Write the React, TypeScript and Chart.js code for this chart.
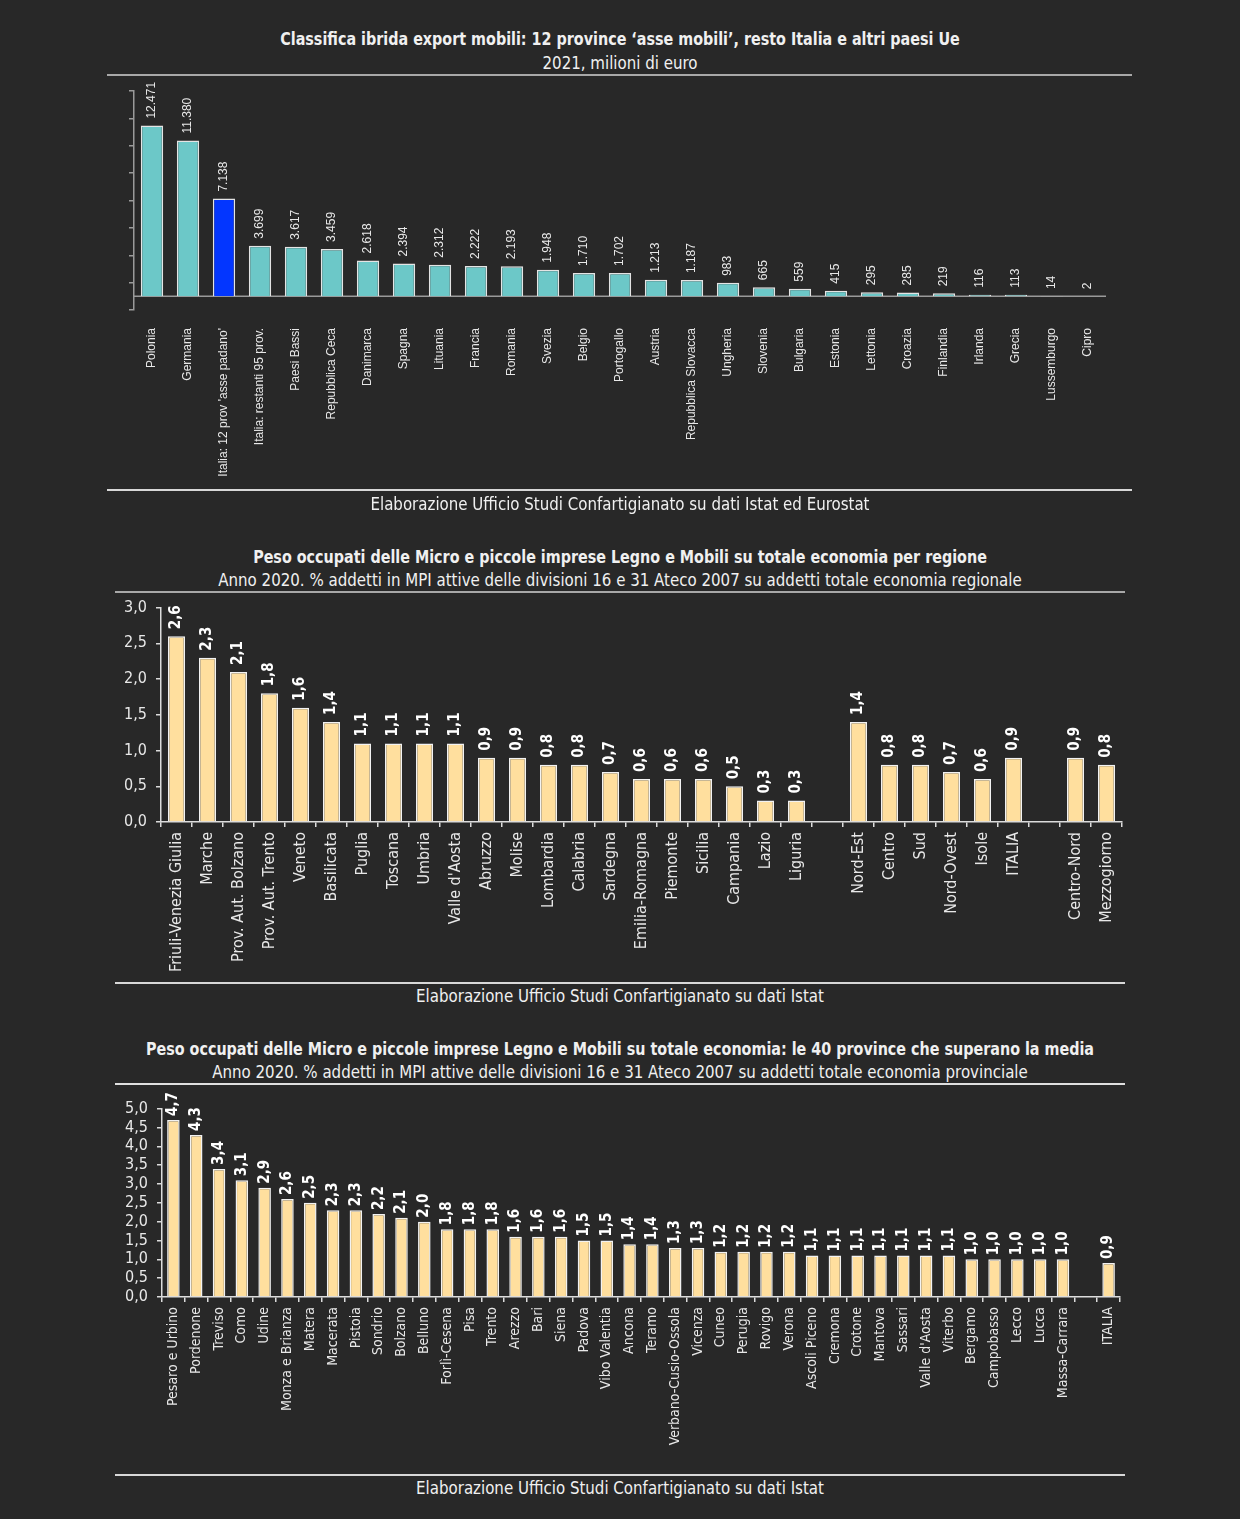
import React, { useEffect, useRef } from "react";
import { Chart, registerables } from "chart.js";
Chart.register(...registerables);

const NARROW = "'Liberation Sans Narrow', 'Arial Narrow', 'DejaVu Sans Condensed', sans-serif";
const WIDE = "'Liberation Sans', Arial, sans-serif";
const BG = "#282828";
const TXT = "#e8e8e8";

// ---- Chart 1 data ----
const exportCountries = [
  "Polonia", "Germania", "Italia: 12 prov 'asse padano'", "Italia: restanti 95 prov.", "Paesi Bassi",
  "Repubblica Ceca", "Danimarca", "Spagna", "Lituania", "Francia", "Romania", "Svezia", "Belgio",
  "Portogallo", "Austria", "Repubblica Slovacca", "Ungheria", "Slovenia", "Bulgaria", "Estonia",
  "Lettonia", "Croazia", "Finlandia", "Irlanda", "Grecia", "Lussemburgo", "Cipro",
];
const exportValues = [
  12471, 11380, 7138, 3699, 3617, 3459, 2618, 2394, 2312, 2222, 2193, 1948, 1710, 1702, 1213,
  1187, 983, 665, 559, 415, 295, 285, 219, 116, 113, 14, 2,
];
const exportHighlightLabel = "Italia: 12 prov 'asse padano'";

// ---- Chart 2 data ----
const regionLabels = [
  "Friuli-Venezia Giulia", "Marche", "Prov. Aut. Bolzano", "Prov. Aut. Trento", "Veneto", "Basilicata",
  "Puglia", "Toscana", "Umbria", "Valle d'Aosta", "Abruzzo", "Molise", "Lombardia", "Calabria",
  "Sardegna", "Emilia-Romagna", "Piemonte", "Sicilia", "Campania", "Lazio", "Liguria", "",
  "Nord-Est", "Centro", "Sud", "Nord-Ovest", "Isole", "ITALIA", "", "Centro-Nord", "Mezzogiorno",
];
const regionValues: (number | null)[] = [
  2.6, 2.3, 2.1, 1.8, 1.6, 1.4, 1.1, 1.1, 1.1, 1.1, 0.9, 0.9, 0.8, 0.8, 0.7, 0.6, 0.6, 0.6, 0.5, 0.3, 0.3, null,
  1.4, 0.8, 0.8, 0.7, 0.6, 0.9, null, 0.9, 0.8,
];

// ---- Chart 3 data ----
const provinceLabels = [
  "Pesaro e Urbino", "Pordenone", "Treviso", "Como", "Udine", "Monza e Brianza", "Matera", "Macerata",
  "Pistoia", "Sondrio", "Bolzano", "Belluno", "Forlì-Cesena", "Pisa", "Trento", "Arezzo", "Bari", "Siena",
  "Padova", "Vibo Valentia", "Ancona", "Teramo", "Verbano-Cusio-Ossola", "Vicenza", "Cuneo", "Perugia",
  "Rovigo", "Verona", "Ascoli Piceno", "Cremona", "Crotone", "Mantova", "Sassari", "Valle d'Aosta",
  "Viterbo", "Bergamo", "Campobasso", "Lecco", "Lucca", "Massa-Carrara", "", "ITALIA",
];
const provinceValues: (number | null)[] = [
  4.7, 4.3, 3.4, 3.1, 2.9, 2.6, 2.5, 2.3, 2.3, 2.2, 2.1, 2.0, 1.8, 1.8, 1.8, 1.6, 1.6, 1.6, 1.5, 1.5,
  1.4, 1.4, 1.3, 1.3, 1.2, 1.2, 1.2, 1.2, 1.1, 1.1, 1.1, 1.1, 1.1, 1.1, 1.1, 1.0, 1.0, 1.0, 1.0, 1.0,
  null, 0.9,
];

const fmtThousands = (v: number) => {
  const s = String(Math.round(v));
  return s.replace(/\B(?=(\d{3})+(?!\d))/g, ".");
};
const fmtComma = (v: number) => v.toFixed(1).replace(".", ",");

function valueLabels(font: string, color: string, offset: number, fmt: (v: number) => string) {
  return {
    id: "valueLabels",
    afterDatasetsDraw(chart: any) {
      const ctx = chart.ctx;
      chart.data.datasets.forEach((ds: any, di: number) => {
        const meta = chart.getDatasetMeta(di);
        meta.data.forEach((el: any, i: number) => {
          const v = ds.data[i];
          if (v == null) return;
          ctx.save();
          ctx.translate(el.x, el.y - offset);
          ctx.rotate(-Math.PI / 2);
          ctx.font = font;
          ctx.fillStyle = color;
          ctx.textAlign = "left";
          ctx.textBaseline = "middle";
          ctx.fillText(fmt(v), 0, 0);
          ctx.restore();
        });
      });
    },
  };
}

const zeroLine = {
  id: "zeroLine",
  beforeDatasetsDraw(chart: any) {
    const ctx = chart.ctx;
    const y = chart.scales.y.getPixelForValue(0);
    const { left, right } = chart.chartArea;
    ctx.save();
    ctx.strokeStyle = "#9a9a9a";
    ctx.lineWidth = 1.5;
    ctx.beginPath();
    ctx.moveTo(left, y);
    ctx.lineTo(right, y);
    ctx.stroke();
    ctx.restore();
  },
};

function useChart(ref: React.RefObject<HTMLCanvasElement>, make: (c: HTMLCanvasElement) => Chart) {
  useEffect(() => {
    if (!ref.current) return;
    const ch = make(ref.current);
    return () => ch.destroy();
  }, []);
}

function makeExport(canvas: HTMLCanvasElement) {
  return new Chart(canvas, {
    type: "bar",
    data: {
      labels: exportCountries,
      datasets: [
        {
          data: exportValues,
          backgroundColor: exportCountries.map((c) => (c === exportHighlightLabel ? "#0336FF" : "#6CC8C8")),
          borderColor: "#e4e4e4",
          borderWidth: 1.5,
          barPercentage: 0.62,
          categoryPercentage: 1,
        },
      ],
    },
    options: {
      responsive: false,
      animation: false,
      layout: { padding: { top: 11, right: 134, left: 0, bottom: 0 } },
      plugins: { legend: { display: false }, tooltip: { enabled: false } },
      scales: {
        x: {
          grid: { display: false },
          border: { display: false },
          ticks: {
            color: TXT,
            font: { family: WIDE, size: 12 },
            minRotation: 90,
            maxRotation: 90,
            autoSkip: false,
            padding: 10,
          },
          afterFit: (s: any) => { s.height = 180; },
        },
        y: {
          min: -1000,
          max: 15000,
          border: { display: true, color: "#9a9a9a", width: 1.5 },
          grid: { drawOnChartArea: false, color: "#9a9a9a", tickLength: 5, lineWidth: 1.5 },
          ticks: { display: false, stepSize: 2000 },
          afterFit: (s: any) => { s.width = 134; },
        },
      },
    },
    plugins: [zeroLine, valueLabels(`12px ${WIDE}`, TXT, 7, fmtThousands)],
  } as any);
}

function makePeso(
  canvas: HTMLCanvasElement,
  labels: string[],
  values: (number | null)[],
  opts: { max: number; top: number; right: number; left: number; xh: number; barPct: number; xFont: number; valOffset: number }
) {
  return new Chart(canvas, {
    type: "bar",
    data: {
      labels,
      datasets: [
        {
          data: values,
          backgroundColor: "#FFDF9E",
          borderColor: "#f2f2f2",
          borderWidth: 1.5,
          barPercentage: opts.barPct,
          categoryPercentage: 1,
        },
      ],
    },
    options: {
      responsive: false,
      animation: false,
      layout: { padding: { top: opts.top, right: opts.right, left: 0, bottom: 0 } },
      plugins: { legend: { display: false }, tooltip: { enabled: false } },
      scales: {
        x: {
          border: { display: true, color: "#dcdcdc", width: 1.5 },
          grid: { drawOnChartArea: false, color: "#dcdcdc", tickLength: 5, lineWidth: 1.5, offset: true },
          ticks: {
            color: TXT,
            font: { family: NARROW, size: opts.xFont },
            minRotation: 90,
            maxRotation: 90,
            autoSkip: false,
            padding: 5,
          },
          afterFit: (s: any) => { s.height = opts.xh; },
        },
        y: {
          min: 0,
          max: opts.max,
          border: { display: true, color: "#dcdcdc", width: 1.5 },
          grid: { drawOnChartArea: false, color: "#dcdcdc", tickLength: 5, lineWidth: 1.5 },
          ticks: {
            stepSize: 0.5,
            autoSkip: false,
            color: TXT,
            padding: 9,
            font: { family: NARROW, size: 16 },
            callback: (v: any) => fmtComma(Number(v)),
          },
          afterFit: (s: any) => { s.width = opts.left; },
        },
      },
    },
    plugins: [valueLabels(`bold 15px ${NARROW}`, "#ffffff", opts.valOffset, fmtComma)],
  } as any);
}

const textBase: React.CSSProperties = {
  position: "absolute",
  left: 0,
  width: 1240,
  textAlign: "center",
  color: "#f0f0f0",
  fontFamily: NARROW,
  whiteSpace: "nowrap",
  lineHeight: "22px",
  height: 22,
};

function Txt({ y, size, bold, sx, children }: { y: number; size: number; bold?: boolean; sx: number; children: React.ReactNode }) {
  return (
    <div
      style={{
        ...textBase,
        top: y - 11,
        fontSize: size,
        fontWeight: bold ? 700 : 400,
        transform: `scaleX(${sx})`,
        transformOrigin: "620px 50%",
      }}
    >
      {children}
    </div>
  );
}

function Rule({ y, x1, x2, color }: { y: number; x1: number; x2: number; color: string }) {
  return <div style={{ position: "absolute", top: y - 1, left: x1, width: x2 - x1, height: 1.5, background: color }} />;
}

const TS = 18; // title size
const TSX = 0.885;
const SS = 17.5; // subtitle size
const SSX = 0.955;

export default function App() {
  const c1 = useRef<HTMLCanvasElement>(null);
  const c2 = useRef<HTMLCanvasElement>(null);
  const c3 = useRef<HTMLCanvasElement>(null);

  useChart(c1, makeExport);
  useChart(c2, (c) =>
    makePeso(c, regionLabels, regionValues, { max: 3, top: 0, right: 118, left: 161, xh: 158, barPct: 0.55, xFont: 16, valOffset: 7 })
  );
  useChart(c3, (c) =>
    makePeso(c, provinceLabels, provinceValues, { max: 5, top: 0, right: 120, left: 162, xh: 173, barPct: 0.55, xFont: 14, valOffset: 4 })
  );

  return (
    <div style={{ position: "absolute", left: 0, top: 0, width: 1240, height: 1519, background: BG, overflow: "hidden" }}>
      <Txt y={39} size={TS} sx={TSX} bold>Classifica ibrida export mobili: 12 province ‘asse mobili’, resto Italia e altri paesi Ue</Txt>
      <Txt y={63} size={SS} sx={SSX}>2021, milioni di euro</Txt>
      <Rule y={75} x1={107} x2={1132} color="#a8a8a8" />
      <canvas ref={c1} width={1240} height={410} style={{ position: "absolute", left: 0, top: 80, width: 1240, height: 410 }} />
      <Rule y={490} x1={107} x2={1132} color="#d8d8d8" />
      <Txt y={504} size={SS} sx={SSX}>Elaborazione Ufficio Studi Confartigianato su dati Istat ed Eurostat</Txt>

      <Txt y={557} size={TS} sx={TSX} bold>Peso occupati delle Micro e piccole imprese Legno e Mobili su totale economia per regione</Txt>
      <Txt y={580} size={SS} sx={SSX}>Anno 2020. % addetti in MPI attive delle divisioni 16 e 31 Ateco 2007 su addetti totale economia regionale</Txt>
      <Rule y={592} x1={115} x2={1125} color="#a8a8a8" />
      <canvas ref={c2} width={1240} height={391} style={{ position: "absolute", left: 0, top: 589, width: 1240, height: 391 }} />
      <Rule y={983} x1={115} x2={1125} color="#d8d8d8" />
      <Txt y={996} size={SS} sx={SSX}>Elaborazione Ufficio Studi Confartigianato su dati Istat</Txt>

      <Txt y={1049} size={TS} sx={TSX} bold>Peso occupati delle Micro e piccole imprese Legno e Mobili su totale economia: le 40 province che superano la media</Txt>
      <Txt y={1072} size={SS} sx={SSX}>Anno 2020. % addetti in MPI attive delle divisioni 16 e 31 Ateco 2007 su addetti totale economia provinciale</Txt>
      <Rule y={1084} x1={115} x2={1125} color="#e0e0e0" />
      <canvas ref={c3} width={1240} height={380} style={{ position: "absolute", left: 0, top: 1090, width: 1240, height: 380 }} />
      <Rule y={1475} x1={115} x2={1125} color="#d8d8d8" />
      <Txt y={1488} size={SS} sx={SSX}>Elaborazione Ufficio Studi Confartigianato su dati Istat</Txt>
    </div>
  );
}
